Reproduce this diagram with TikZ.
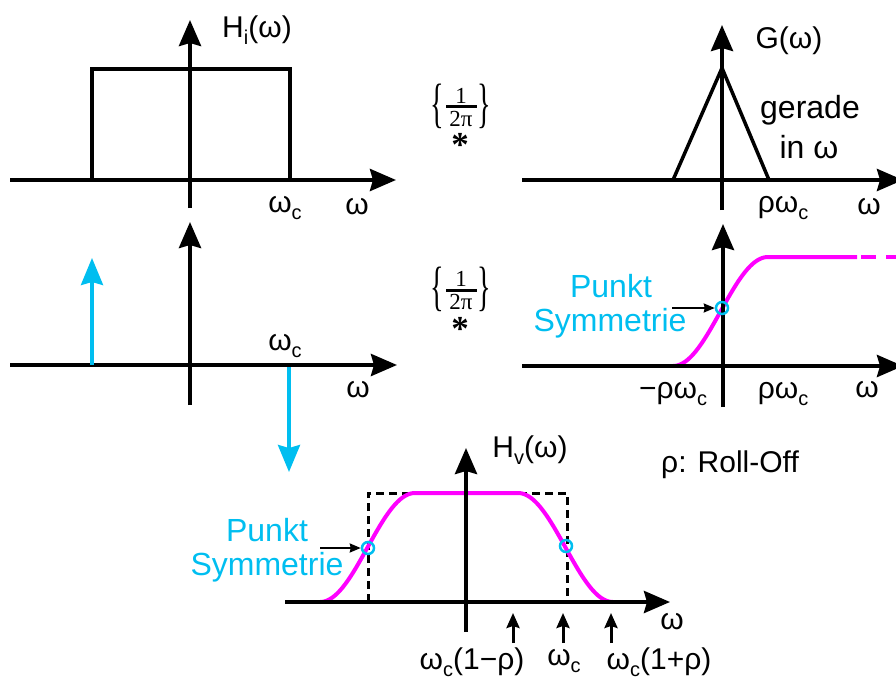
\documentclass[tikz,border=0pt]{standalone}
\usepackage{fontspec}
\setmainfont{Liberation Sans}
\newfontfamily\seriff{Liberation Serif}
\usetikzlibrary{arrows.meta}
\definecolor{cy}{RGB}{0,190,240}
\definecolor{mg}{RGB}{255,0,255}
\newcommand{\lsub}[1]{\raisebox{-0.22em}{\fontsize{20}{20}\selectfont #1}}
\newcommand{\myleftbr}{\scalebox{1.05}[2.0]{\seriff\fontsize{27}{27}\selectfont\{}}
\newcommand{\myrightbr}{\scalebox{1.05}[2.0]{\seriff\fontsize{27}{27}\selectfont\}}}
\begin{document}
\begin{tikzpicture}[x=1pt,y=-1pt,
  font=\fontsize{30}{34}\selectfont,
  axis/.style={line width=4pt,-{Stealth[length=26pt,width=22pt,inset=3pt]}},
  plainline/.style={line width=3.5pt},
  cyarrow/.style={cy,line width=3.5pt,-{Stealth[length=27pt,width=22pt,inset=3pt]}},
  smallarrow/.style={line width=2pt,-{Stealth[length=11pt,width=9pt,inset=1pt]}},
  tickarrow/.style={line width=3pt,-{Stealth[length=15pt,width=13pt,inset=2pt]}},
  curve/.style={mg,line width=4pt},
  ring/.style={cy,line width=2.5pt,circle,minimum size=12pt,inner sep=0pt,draw},
  lbl/.style={inner sep=0pt},
  serlbl/.style={inner sep=0pt,font=\seriff\fontsize{23}{23}\selectfont},
  brlbl/.style={inner sep=0pt},
  astlbl/.style={inner sep=0pt,font=\seriff\bfseries\fontsize{35}{35}\selectfont},
  fracbar/.style={line width=3pt},
  biglbl/.style={inner sep=0pt,font=\fontsize{32}{36}\selectfont},
  cylbl/.style={text=cy,inner sep=0pt,font=\fontsize{32}{36}\selectfont},
  dashbox/.style={line width=3pt,dash pattern=on 8pt off 5pt}]
\useasboundingbox (0,0) rectangle (896,682);

% ---------- top-left ----------
\coordinate (tlxa) at (10,180); \coordinate (tlxb) at (396,180);
\coordinate (tlya) at (190,208); \coordinate (tlyb) at (190,20);
\draw[plainline] (92,180) -- (92,69) -- (290,69) -- (290,180);
\draw[axis] (tlxa) -- (tlxb);
\draw[axis] (tlya) -- (tlyb);
\node[lbl] (hi) at (257,30) {H\lsub{i}(ω)};
\node[lbl] (wc1) at (285,208) {ω\lsub{c}};
\node[lbl] (w1) at (357,207) {ω};

% ---------- middle-left ----------
\coordinate (mlxa) at (10,365); \coordinate (mlxb) at (397,365);
\coordinate (mlya) at (190,405); \coordinate (mlyb) at (190,222);
\coordinate (cua) at (92,365); \coordinate (cub) at (92,258);
\coordinate (cda) at (289,367); \coordinate (cdb) at (289,472);
\draw[axis] (mlxa) -- (mlxb);
\draw[axis] (mlya) -- (mlyb);
\draw[cyarrow] (cua) -- (cub);
\draw[cyarrow] (cda) -- (cdb);
\node[lbl] (wc2) at (285,346) {ω\lsub{c}};
\node[lbl] (w2) at (358,390) {ω};

% ---------- convolution symbols ----------
\node[serlbl] (num1) at (461,96) {1};
\node[serlbl] (den1) at (461,119) {2π};
\coordinate (bar1a) at (446,107); \coordinate (bar1b) at (477,107);
\draw[fracbar] (bar1a) -- (bar1b);
\node[brlbl] (lb1) at (437,106) {\myleftbr};
\node[brlbl] (rb1) at (484,106) {\myrightbr};
\node[astlbl] (ast1) at (460,145) {*};

\node[serlbl] (num2) at (461,279) {1};
\node[serlbl] (den2) at (461,302) {2π};
\coordinate (bar2a) at (446,290); \coordinate (bar2b) at (477,290);
\draw[fracbar] (bar2a) -- (bar2b);
\node[brlbl] (lb2) at (437,289) {\myleftbr};
\node[brlbl] (rb2) at (484,289) {\myrightbr};
\node[astlbl] (ast2) at (460,329) {*};

% ---------- top-right ----------
\coordinate (trxa) at (522,180); \coordinate (trxb) at (903,180);
\coordinate (trya) at (722,210); \coordinate (tryb) at (722,25);
\draw[plainline] (673,180) -- (722,68) -- (769,180);
\draw[axis] (trxa) -- (trxb);
\draw[axis] (trya) -- (tryb);
\node[lbl] (g) at (789,41) {G(ω)};
\node[biglbl] (gerade) at (810,110) {gerade};
\node[biglbl] (inw) at (809,147) {in ω};
\node[lbl] (rwc1) at (783,208) {ρω\lsub{c}};
\node[lbl] (w3) at (869,207) {ω};

% ---------- middle-right ----------
\coordinate (mrxa) at (522,366); \coordinate (mrxb) at (903,366);
\coordinate (mrya) at (723,407); \coordinate (mryb) at (723,224);
\draw[curve] plot[domain=0:1,samples=50] ({673+95*\x},{366-109*(1-cos(180*\x))/2}) -- (857,257);
\draw[curve,dash pattern=on 15pt off 10pt] (861,257) -- (905,257);
\draw[axis] (mrxa) -- (mrxb);
\draw[axis] (mrya) -- (mryb);
\node[ring] (ring1) at (722,308) {};
\node[cylbl] (pk1) at (611,286) {Punkt};
\node[cylbl] (sy1) at (610,323) {Symmetrie};
\coordinate (pa1) at (672,308);
\draw[smallarrow] (pa1) -- (ring1.west);
\node[lbl] (mrwc) at (673,394) {−ρω\lsub{c}};
\node[lbl] (rwc2) at (783,394) {ρω\lsub{c}};
\node[lbl] (w4) at (867,390) {ω};

% ---------- bottom ----------
\coordinate (bxa) at (285,602); \coordinate (bxb) at (670,602);
\coordinate (bya) at (466,632); \coordinate (byb) at (466,448);
\draw[dashbox] (368,602) -- (368,493) -- (567,493) -- (567,602);
\draw[curve] plot[domain=0:1,samples=50] ({320+95*\x},{602-109*(1-cos(180*\x))/2})
  -- (518,493)
  plot[domain=0:1,samples=50] ({518+95*\x},{493+109*(1-cos(180*\x))/2});
\draw[axis] (bxa) -- (bxb);
\draw[axis] (bya) -- (byb);
\node[ring] (ring2) at (368,548) {};
\node[ring] (ring3) at (566,546) {};
\node[cylbl] (pk2) at (267,530) {Punkt};
\node[cylbl] (sy2) at (267,567) {Symmetrie};
\coordinate (pa2) at (320,548);
\draw[smallarrow] (pa2) -- (ring2.west);
\node[lbl] (hv) at (530,450) {H\lsub{v}(ω)};
\node[lbl] (ro) at (730,465) {ρ: Roll-Off};
\node[lbl] (w5) at (672,622) {ω};
\coordinate (t1a) at (513,643); \coordinate (t1b) at (513,613);
\coordinate (t2a) at (563,643); \coordinate (t2b) at (563,613);
\coordinate (t3a) at (611,643); \coordinate (t3b) at (611,613);
\draw[tickarrow] (t1a) -- (t1b);
\draw[tickarrow] (t2a) -- (t2b);
\draw[tickarrow] (t3a) -- (t3b);
\node[lbl] (l1) at (472,662) {ω\lsub{c}(1−ρ)};
\node[lbl] (l2) at (564,661) {ω\lsub{c}};
\node[lbl] (l3) at (659,662) {ω\lsub{c}(1+ρ)};
\end{tikzpicture}
\end{document}
